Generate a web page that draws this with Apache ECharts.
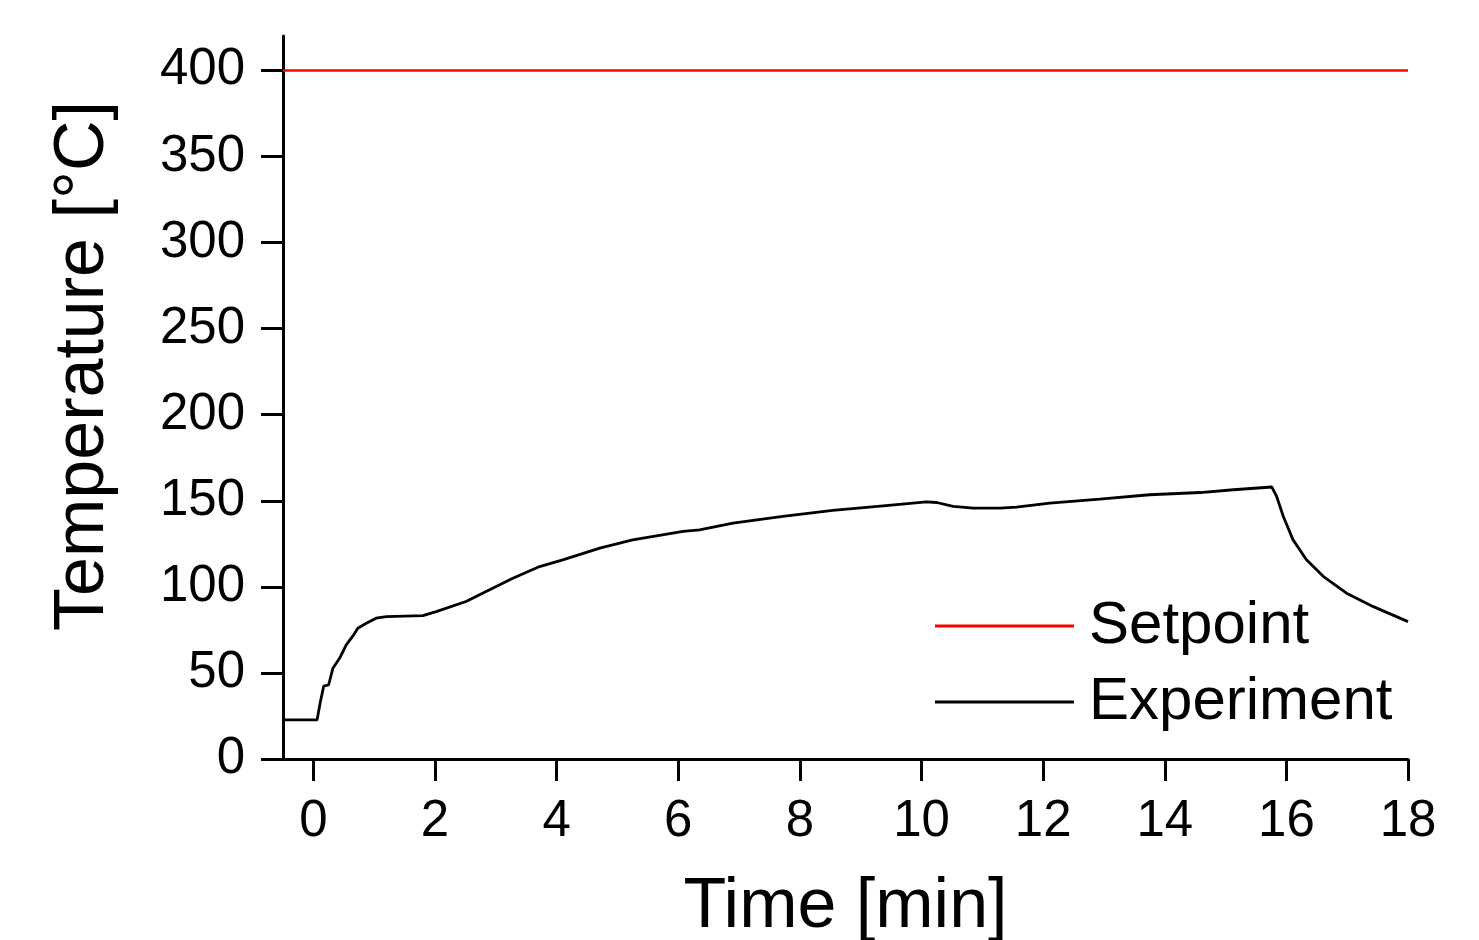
<!DOCTYPE html>
<html>
<head>
<meta charset="utf-8">
<script src="https://cdn.jsdelivr.net/npm/echarts@6/dist/echarts.min.js"></script>
<style>
  html, body { margin: 0; padding: 0; background: #fff; overflow: hidden; }
  #chart { width: 1479px; height: 940px; }
</style>
</head>
<body>
<div id="chart"></div>
<script>
// Furnace heating run: measured temperature against the 400 °C setpoint
const expTime = [-0.5, 0.06, 0.11, 0.17, 0.25, 0.32, 0.43, 0.54, 0.65, 0.73, 0.87, 1.03, 1.2, 1.5, 1.8,
  2.02, 2.51, 2.84, 3.28, 3.72, 4.1, 4.71, 5.25, 6.08, 6.35, 6.9, 7.72, 8.54, 9.37, 10.08, 10.25,
  10.52, 10.85, 11.29, 11.56, 12.11, 12.93, 13.75, 14.58, 15.13, 15.76, 15.84, 15.95, 16.11, 16.33,
  16.61, 16.99, 17.43, 18];
const expTemp = [22.7, 22.7, 32.4, 42.4, 43, 52.7, 58.5, 66.3, 71.5, 76, 78.9, 81.8, 82.7, 83, 83.3,
  85.6, 91.5, 97.3, 105, 111.8, 115.7, 122.5, 127.3, 132.2, 133.1, 137, 140.9, 144.4, 147.1, 149.4, 149,
  146.8, 145.7, 145.7, 146.3, 148.6, 151, 153.5, 154.8, 156.4, 158, 152.5, 140.9, 127.3, 115.7,
  106, 96.3, 88.5, 79.8];
const setpointTime = [-0.5, 18];
const setpointTemp = [400, 400];
const xTicks = [0, 2, 4, 6, 8, 10, 12, 14, 16, 18];
const yTicks = [0, 50, 100, 150, 200, 250, 300, 350, 400];

const FONT = '"Liberation Sans", Arial, sans-serif';
const zip = (xs, ys) => xs.map((x, i) => [x, ys[i]]);

const axisLine = { show: true, onZero: false, lineStyle: { color: '#000', width: 3 } };
const axisTick = { show: true, inside: false, length: 22, lineStyle: { color: '#000', width: 3 } };

const chart = echarts.init(document.getElementById('chart'), null, { renderer: 'canvas', width: 1479, height: 940 });
chart.setOption({
  backgroundColor: '#fff',
  animation: false,
  grid: { left: 283, right: 71, top: 36, bottom: 181, containLabel: false, outerBoundsMode: 'none' },
  xAxis: {
    type: 'value',
    min: -0.5,
    max: 18,
    name: 'Time [min]',
    nameLocation: 'middle',
    nameGap: 114,
    nameTextStyle: { fontFamily: FONT, fontSize: 70, color: '#000' },
    axisLine: axisLine,
    axisTick: Object.assign({}, axisTick, { customValues: xTicks }),
    axisLabel: { customValues: xTicks, margin: 37, fontFamily: FONT, fontSize: 51, color: '#000' },
    splitLine: { show: false }
  },
  yAxis: {
    type: 'value',
    min: 0,
    max: 420,
    axisLine: axisLine,
    axisTick: Object.assign({}, axisTick, { customValues: yTicks }),
    axisLabel: { customValues: yTicks, margin: 38, fontFamily: FONT, fontSize: 51, color: '#000' },
    splitLine: { show: false }
  },
  legend: {
    orient: 'vertical',
    left: 935,
    top: 596,
    padding: 0,
    itemWidth: 139,
    itemHeight: 3,
    itemGap: 16,
    selectedMode: false,
    icon: 'rect',
    textStyle: { fontFamily: FONT, fontSize: 60, lineHeight: 60, color: '#000', padding: [0, 0, 0, 10] },
    data: ['Setpoint', 'Experiment']
  },
  graphic: [{
    type: 'text',
    x: 84,
    y: 366,
    rotation: Math.PI / 2,
    style: {
      text: 'Temperature [°C]',
      fontFamily: FONT,
      fontSize: 70,
      fill: '#000',
      align: 'center',
      verticalAlign: 'middle'
    }
  }],
  series: [
    {
      name: 'Setpoint',
      type: 'line',
      data: zip(setpointTime, setpointTemp),
      symbol: 'none',
      lineStyle: { color: '#ff0000', width: 2.5 },
      itemStyle: { color: '#ff0000' },
      z: 3
    },
    {
      name: 'Experiment',
      type: 'line',
      data: zip(expTime, expTemp),
      symbol: 'none',
      lineStyle: { color: '#000', width: 2.8 },
      itemStyle: { color: '#000' },
      z: 2
    }
  ]
});
</script>
</body>
</html>
